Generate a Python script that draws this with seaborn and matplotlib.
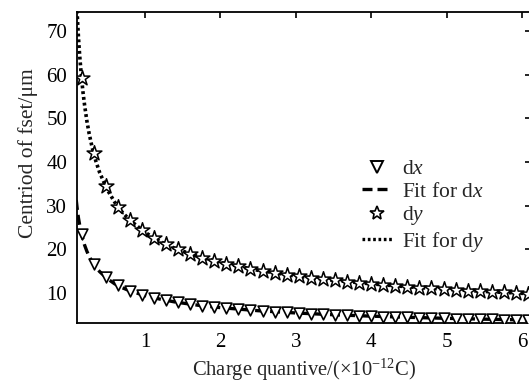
import matplotlib
matplotlib.use("Agg")
import matplotlib.pyplot as plt
import seaborn as sns
import pandas as pd
from matplotlib.lines import Line2D

# ---- data ----
marker_x = [0.16, 0.32, 0.48, 0.64, 0.80, 0.96, 1.12, 1.28, 1.44, 1.60,
            1.76, 1.92, 2.08, 2.24, 2.40, 2.56, 2.72, 2.88, 3.04, 3.20,
            3.36, 3.52, 3.68, 3.84, 4.00, 4.16, 4.32, 4.48, 4.64, 4.80,
            4.96, 5.12, 5.28, 5.44, 5.60, 5.76, 5.92, 6.08]
dx_vals = [23.5, 16.6, 13.6, 11.75, 10.5, 9.6, 8.9, 8.3, 7.83, 7.43,
           7.09, 6.78, 6.52, 6.28, 6.07, 5.88, 5.70, 5.54, 5.39, 5.25,
           5.13, 5.01, 4.90, 4.80, 4.70, 4.61, 4.52, 4.44, 4.36, 4.29,
           4.22, 4.15, 4.09, 4.03, 3.97, 3.92, 3.86, 3.81]
dy_vals = [59.3, 42.0, 34.4, 29.8, 26.7, 24.4, 22.6, 21.2, 20.0, 19.0,
           18.1, 17.3, 16.7, 16.1, 15.5, 15.05, 14.6, 14.2, 13.8, 13.5,
           13.2, 12.9, 12.6, 12.3, 12.1, 11.9, 11.65, 11.45, 11.25, 11.07,
           10.9, 10.73, 10.57, 10.42, 10.27, 10.13, 10.0, 9.87]

fit_x = [0.09, 0.10, 0.11, 0.12, 0.13, 0.14, 0.16, 0.18, 0.20, 0.23,
         0.26, 0.30, 0.35, 0.40, 0.50, 0.60, 0.70, 0.80, 1.0, 1.2,
         1.4, 1.7, 2.0, 2.5, 3.0, 3.5, 4.0, 4.5, 5.0, 5.5, 6.0, 6.2]
fit_dx = [31.3, 29.7, 28.3, 27.1, 26.1, 25.1, 23.5, 22.2, 21.0, 19.6,
          18.4, 17.2, 15.9, 14.9, 13.3, 12.1, 11.2, 10.5, 9.4, 8.6,
          7.94, 7.21, 6.65, 5.95, 5.43, 5.02, 4.70, 4.43, 4.20, 4.01, 3.84, 3.78]
fit_dy = [79.0, 74.9, 71.4, 68.4, 65.7, 63.4, 59.3, 55.9, 53.1, 49.5,
          46.6, 43.4, 40.2, 37.6, 33.7, 30.8, 28.5, 26.7, 23.9, 21.8,
          20.2, 18.4, 17.0, 15.2, 13.9, 12.9, 12.1, 11.4, 10.85, 10.36, 9.93, 9.78]

x_ticks = [1, 2, 3, 4, 5, 6]
y_ticks = [10, 20, 30, 40, 50, 60, 70]

sns.set_theme(style="white")
plt.rcParams['font.family'] = ['Liberation Serif', 'DejaVu Serif']
plt.rcParams['mathtext.fontset'] = 'custom'
plt.rcParams['mathtext.rm'] = 'Liberation Serif'
plt.rcParams['mathtext.it'] = 'Liberation Serif:italic'
plt.rcParams['mathtext.fallback'] = 'stix'

fig = plt.figure(figsize=(5.29, 3.85), dpi=100)
ax = fig.add_axes([77 / 529, 1 - 323 / 385, 454 / 529, (323 - 12) / 385])

df_m = pd.DataFrame({"x": marker_x, "dx": dx_vals, "dy": dy_vals})
df_f = pd.DataFrame({"x": fit_x, "dx": fit_dx, "dy": fit_dy})

sns.lineplot(data=df_f, x="x", y="dx", ax=ax, color="black", lw=2.4,
             linestyle=(0, (3, 1.5)), sort=False, zorder=2)
sns.lineplot(data=df_f, x="x", y="dy", ax=ax, color="black", lw=2.6,
             linestyle=(0, (0.8, 0.8)), sort=False, zorder=2)
sns.scatterplot(data=df_m, x="x", y="dx", ax=ax, marker="v", s=60,
                facecolor="white", edgecolor="black", linewidth=1.2, zorder=3)
sns.scatterplot(data=df_m, x="x", y="dy", ax=ax, marker="*", s=125,
                facecolor="white", edgecolor="black", linewidth=1.1, zorder=3)

ax.set_xlim(0.1, 6.12)
ax.set_ylim(3.13, 74.35)
ax.set_xticks(x_ticks)
ax.set_yticks(y_ticks)
ax.tick_params(direction="in", top=True, right=True, length=4, width=1.2,
               colors="black", labelsize=15, pad=7)
for sp in ax.spines.values():
    sp.set_color("black")
    sp.set_linewidth(1.3)

ax.set_xlabel(r"Charge quantive/(×10$^{\mathrm{-12}}$C)", fontsize=14.8, labelpad=4)
ax.set_ylabel("Centriod of fset/μm", fontsize=15.5)
ax.yaxis.set_label_coords(-0.085, 0.547)

handles = [
    Line2D([], [], marker="v", linestyle="none", markerfacecolor="white",
           markeredgecolor="black", markersize=8, markeredgewidth=1.4),
    Line2D([], [], color="black", lw=2.4, linestyle=(0, (3, 1.5))),
    Line2D([], [], marker="*", linestyle="none", markerfacecolor="white",
           markeredgecolor="black", markersize=10.5, markeredgewidth=1.2),
    Line2D([], [], color="black", lw=2.4, linestyle=(0, (0.8, 0.8))),
]
labels = [r"d$x$", r"Fit for d$x$", r"d$y$", r"Fit for d$y$"]
ax.legend(handles, labels, loc="upper left",
          bbox_to_anchor=(362 / 529, 1 - 159 / 385), bbox_transform=fig.transFigure,
          frameon=False, fontsize=15.5, handlelength=1.4, handletextpad=0.45,
          labelspacing=0.12, borderaxespad=0, borderpad=0)

fig.savefig("out.png", dpi=100)
